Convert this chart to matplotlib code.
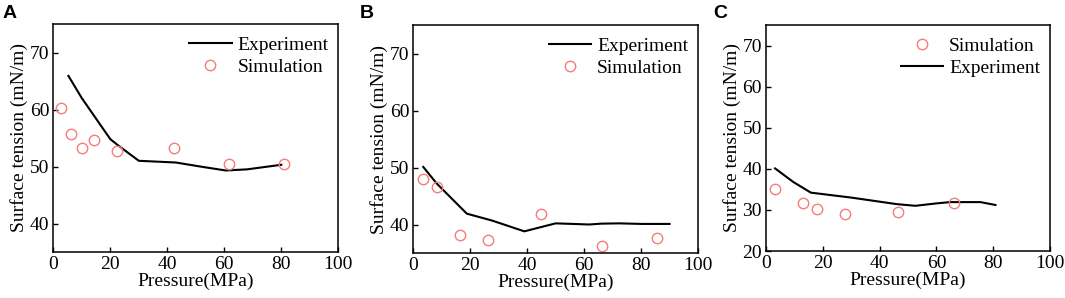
import matplotlib
matplotlib.use("Agg")
import matplotlib.pyplot as plt

# ---- data ----
# Panel A
a_exp_x = [5.3, 10, 15, 20, 22.5, 30, 43, 51.5, 60.5, 68, 80]
a_exp_y = [65.9, 62.0, 58.4, 54.8, 53.8, 51.0, 50.7, 50.0, 49.3, 49.5, 50.3]
a_sim_x = [2.7, 6.1, 10.2, 14.3, 22.2, 42.3, 61.8, 81.1]
a_sim_y = [60.2, 55.7, 53.2, 54.6, 52.7, 53.3, 50.4, 50.4]

# Panel B
b_exp_x = [3.5, 8.2, 18.8, 27.6, 39.0, 50.0, 56, 61.8, 66, 72.4, 80, 90.0]
b_exp_y = [50.1, 47.2, 41.9, 40.7, 38.8, 40.2, 40.1, 40.0, 40.15, 40.2, 40.1, 40.1]
b_sim_x = [3.5, 8.2, 16.5, 26.1, 44.7, 66.2, 85.5]
b_sim_y = [47.9, 46.5, 38.2, 37.2, 41.8, 36.2, 37.7]

# Panel C
c_exp_x = [3.2, 9.6, 15.8, 30, 46.1, 52.6, 60.2, 64.9, 75.5, 80.8]
c_exp_y = [40.1, 36.8, 34.2, 33.0, 31.4, 31.0, 31.6, 31.9, 31.9, 31.2]
c_sim_x = [3.3, 12.9, 17.9, 27.9, 46.5, 66.1]
c_sim_y = [35.0, 31.8, 30.2, 29.0, 29.5, 31.6]

x_ticks = [0, 20, 40, 60, 80, 100]
ab_yticks = [40, 50, 60, 70]
c_yticks = [20, 30, 40, 50, 60, 70]

panel_labels = ["A", "B", "C"]
exp_label = "Experiment"
sim_label = "Simulation"
xlabel = "Pressure(MPa)"
ylabel = "Surface tension (mN/m)"

# ---- styling ----
plt.rcParams['font.family'] = ['Liberation Serif', 'DejaVu Serif']
FS = 14
SIM_COLOR = '#F47C7C'

fig = plt.figure(figsize=(10.65, 2.98), dpi=100)
W, H = 1065, 298

def frac(left, right, top, bottom):
    return [left / W, (H - bottom) / H, (right - left) / W, (bottom - top) / H]

rects = [frac(53.3, 338.3, 24, 252),
         frac(413.3, 698, 25, 253),
         frac(766, 1050, 25, 251)]

panels = [
    (a_exp_x, a_exp_y, a_sim_x, a_sim_y, (35, 75), ab_yticks, False),
    (b_exp_x, b_exp_y, b_sim_x, b_sim_y, (35, 75), ab_yticks, False),
    (c_exp_x, c_exp_y, c_sim_x, c_sim_y, (20, 75), c_yticks, True),
]

label_x = [3, 360, 713]

for i, (rect, p) in enumerate(zip(rects, panels)):
    ex, ey, sx, sy, ylim, yt, sim_first = p
    ax = fig.add_axes(rect)
    l_exp, = ax.plot(ex, ey, color='black', lw=1.5, label=exp_label)
    l_sim, = ax.plot(sx, sy, linestyle='none', marker='o', markersize=7.5,
                     markerfacecolor='none', markeredgecolor=SIM_COLOR,
                     markeredgewidth=1.0, label=sim_label)
    ax.set_xlim(0, 100)
    ax.set_ylim(*ylim)
    ax.set_xticks(x_ticks)
    ax.set_yticks(yt)
    ax.tick_params(direction='in', length=3.5, width=1.0, labelsize=FS, pad=3)
    for s in ax.spines.values():
        s.set_linewidth(1.1)
    ax.set_xlabel(xlabel, fontsize=FS, labelpad=0)
    ax.set_ylabel(ylabel, fontsize=FS, labelpad=1)
    handles = [l_sim, l_exp] if sim_first else [l_exp, l_sim]
    ax.legend(handles=handles, loc='upper right', frameon=False, fontsize=FS,
              handlelength=2.2, handletextpad=0.3, labelspacing=0.25,
              borderaxespad=0.1, bbox_to_anchor=(1.0, 0.99))
    fig.text(label_x[i] / W, 1 - 5 / H, panel_labels[i], fontsize=14,
             fontweight='bold', family=['Liberation Sans', 'DejaVu Sans'],
             ha='left', va='top')

fig.savefig('out.png', dpi=100)
